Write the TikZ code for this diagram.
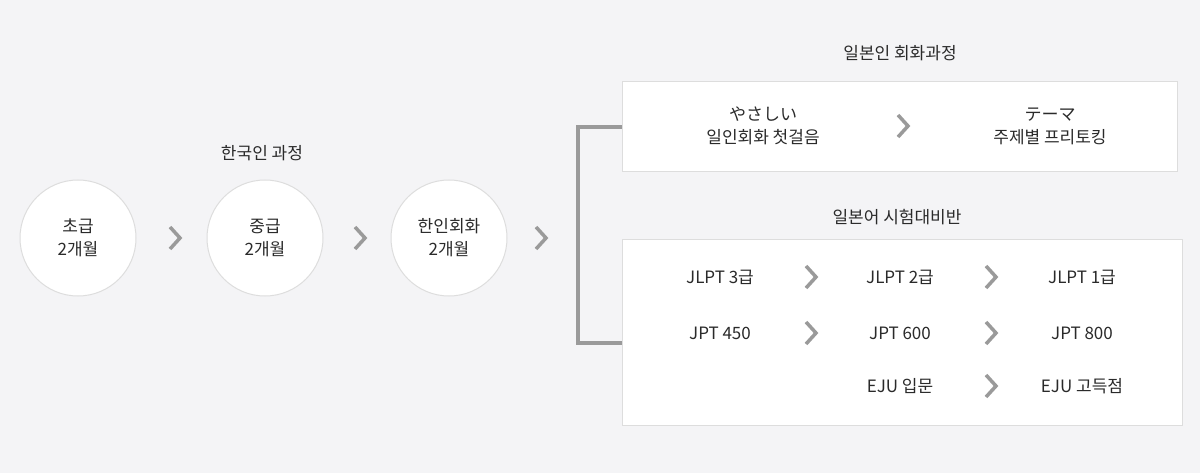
\documentclass[tikz,border=0pt]{standalone}
\usepackage{fontspec}
\setmainfont{Noto Sans CJK KR}
\usetikzlibrary{calc}
\definecolor{bg}{HTML}{F4F4F6}
\definecolor{bd}{HTML}{DDDDDD}
\definecolor{ch}{HTML}{9A9A9A}
\definecolor{tx}{HTML}{2A2A2A}
\begin{document}
\begin{tikzpicture}[x=1pt,y=-1pt,
  lbl/.style={text=tx,font=\fontsize{17}{23}\selectfont,align=center,inner sep=0},
  circ/.style={circle,draw=bd,fill=white,line width=1pt,minimum size=116pt,lbl},
  chev/.style={draw=ch,line width=3.5pt},
  box/.style={draw=bd,fill=white,line width=1pt}]
\fill[bg] (0,0) rectangle (1200,473);
\useasboundingbox (0,0) rectangle (1200,473);
\node[circ] (c1) at (78,238) {초급\\2개월};
\node[circ] (c2) at (265,238) {중급\\2개월};
\node[circ] (c3) at (449,238) {한인회화\\2개월};
\node[lbl] (t0) at (262,153) {한국인 과정};
\coordinate (k1) at (175,238); \coordinate (k2) at (360,238); \coordinate (k3) at (541,238);
\foreach \k in {k1,k2,k3}{\draw[chev] ($(\k)+(-5,-11)$) -- ($(\k)+(5,0)$) -- ($(\k)+(-5,11)$);}
\coordinate (b1) at (622,127); \coordinate (b2) at (622,343);
\draw[chev,line width=4pt] (b1) -- (578,127) -- (578,343) -- (b2);
\draw[box] (622,82) rectangle (1177,172);
\draw[box] (622,240) rectangle (1182,425);
\node[lbl] (t1) at (900,53) {일본인 회화과정};
\node[lbl] (t2) at (897,217) {일본어 시험대비반};
\node[lbl] (a1) at (763,126) {やさしい\\일인회화 첫걸음};
\node[lbl] (a2) at (1050,126) {テーマ\\주제별 프리토킹};
\coordinate (m0) at (903,126);
\draw[chev] ($(m0)+(-5,-11)$) -- ($(m0)+(5,0)$) -- ($(m0)+(-5,11)$);
\node[lbl] (r11) at (720,277) {JLPT 3급};
\node[lbl] (r12) at (900,277) {JLPT 2급};
\node[lbl] (r13) at (1082,277) {JLPT 1급};
\node[lbl] (r21) at (720,333) {JPT 450};
\node[lbl] (r22) at (900,333) {JPT 600};
\node[lbl] (r23) at (1082,333) {JPT 800};
\node[lbl] (r32) at (900,386) {EJU 입문};
\node[lbl] (r33) at (1082,386) {EJU 고득점};
\foreach \x/\y in {811/277,991/277,811/333,991/333,991/386}{
  \draw[chev] (\x-5,\y-11) -- (\x+5,\y) -- (\x-5,\y+11);}
\end{tikzpicture}
\end{document}
